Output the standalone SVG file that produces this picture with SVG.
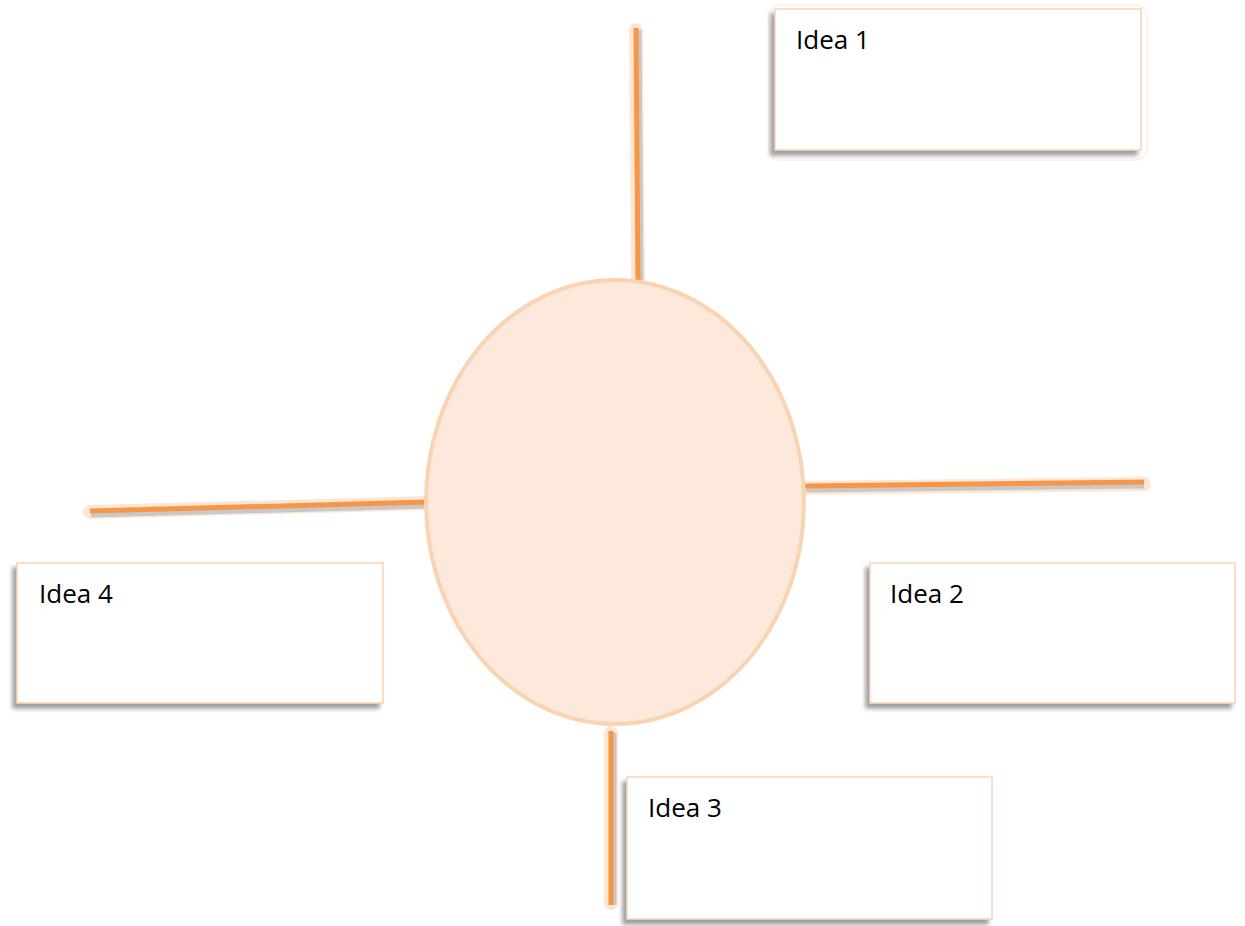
<svg xmlns="http://www.w3.org/2000/svg" width="1245" height="926" viewBox="0 0 1245 926">
<defs>
<filter id="sh" x="-10%" y="-10%" width="120%" height="130%">
<feDropShadow dx="-4" dy="5" stdDeviation="2" flood-color="#7f7f7f" flood-opacity="0.75"/>
</filter>
</defs>
<style>
.box{fill:#fff;stroke:#fad3b3;stroke-width:1.5}
.glow{fill:none;stroke:#fdeee2;stroke-width:1.5}
.lbl{font-family:"Open Sans","Liberation Sans",sans-serif;font-size:26px;fill:#000}
.halo{stroke:#fde7d4;stroke-width:14;stroke-linecap:round;fill:none}
.lsh{stroke:#c8c8c8;stroke-width:5;fill:none}
.ln{stroke:#f79646;stroke-width:5;fill:none}
</style>
<g id="connectors">
<line class="halo" x1="636" y1="30" x2="638" y2="284"/>
<line class="lsh" x1="639" y1="30" x2="641" y2="286"/>
<line class="ln" x1="636" y1="28" x2="638" y2="286"/>
<line class="halo" x1="90" y1="512" x2="428" y2="503"/>
<line class="lsh" x1="91" y1="515" x2="429" y2="506"/>
<line class="ln" x1="90" y1="511" x2="428" y2="502"/>
<line class="halo" x1="805" y1="488" x2="1144" y2="484"/>
<line class="lsh" x1="806" y1="490" x2="1144" y2="486"/>
<line class="ln" x1="805" y1="486" x2="1144" y2="482"/>
<line class="halo" x1="611" y1="733" x2="611" y2="903"/>
<line class="lsh" x1="614" y1="733" x2="614" y2="905"/>
<line class="ln" x1="611" y1="731" x2="611" y2="905"/>
</g>
<g id="center">
<ellipse cx="615" cy="502" rx="189" ry="222" fill="#fce9db" stroke="#fad3b3" stroke-width="4"/>
</g>
<g id="idea1">
<rect class="glow" x="769" y="5" width="378" height="155" rx="12"/>
<rect class="box" x="775" y="9" width="366" height="141" filter="url(#sh)"/>
<text class="lbl" x="796" y="49">Idea 1</text>
</g>
<g id="idea2">
<rect class="box" x="870" y="563" width="365" height="140" filter="url(#sh)"/>
<text class="lbl" x="890" y="603">Idea 2</text>
</g>
<g id="idea3">
<rect class="box" x="627" y="777" width="365" height="142" filter="url(#sh)"/>
<text class="lbl" x="648" y="817">Idea 3</text>
</g>
<g id="idea4">
<rect class="box" x="17" y="563" width="366" height="140" filter="url(#sh)"/>
<text class="lbl" x="39" y="603">Idea 4</text>
</g>
</svg>
